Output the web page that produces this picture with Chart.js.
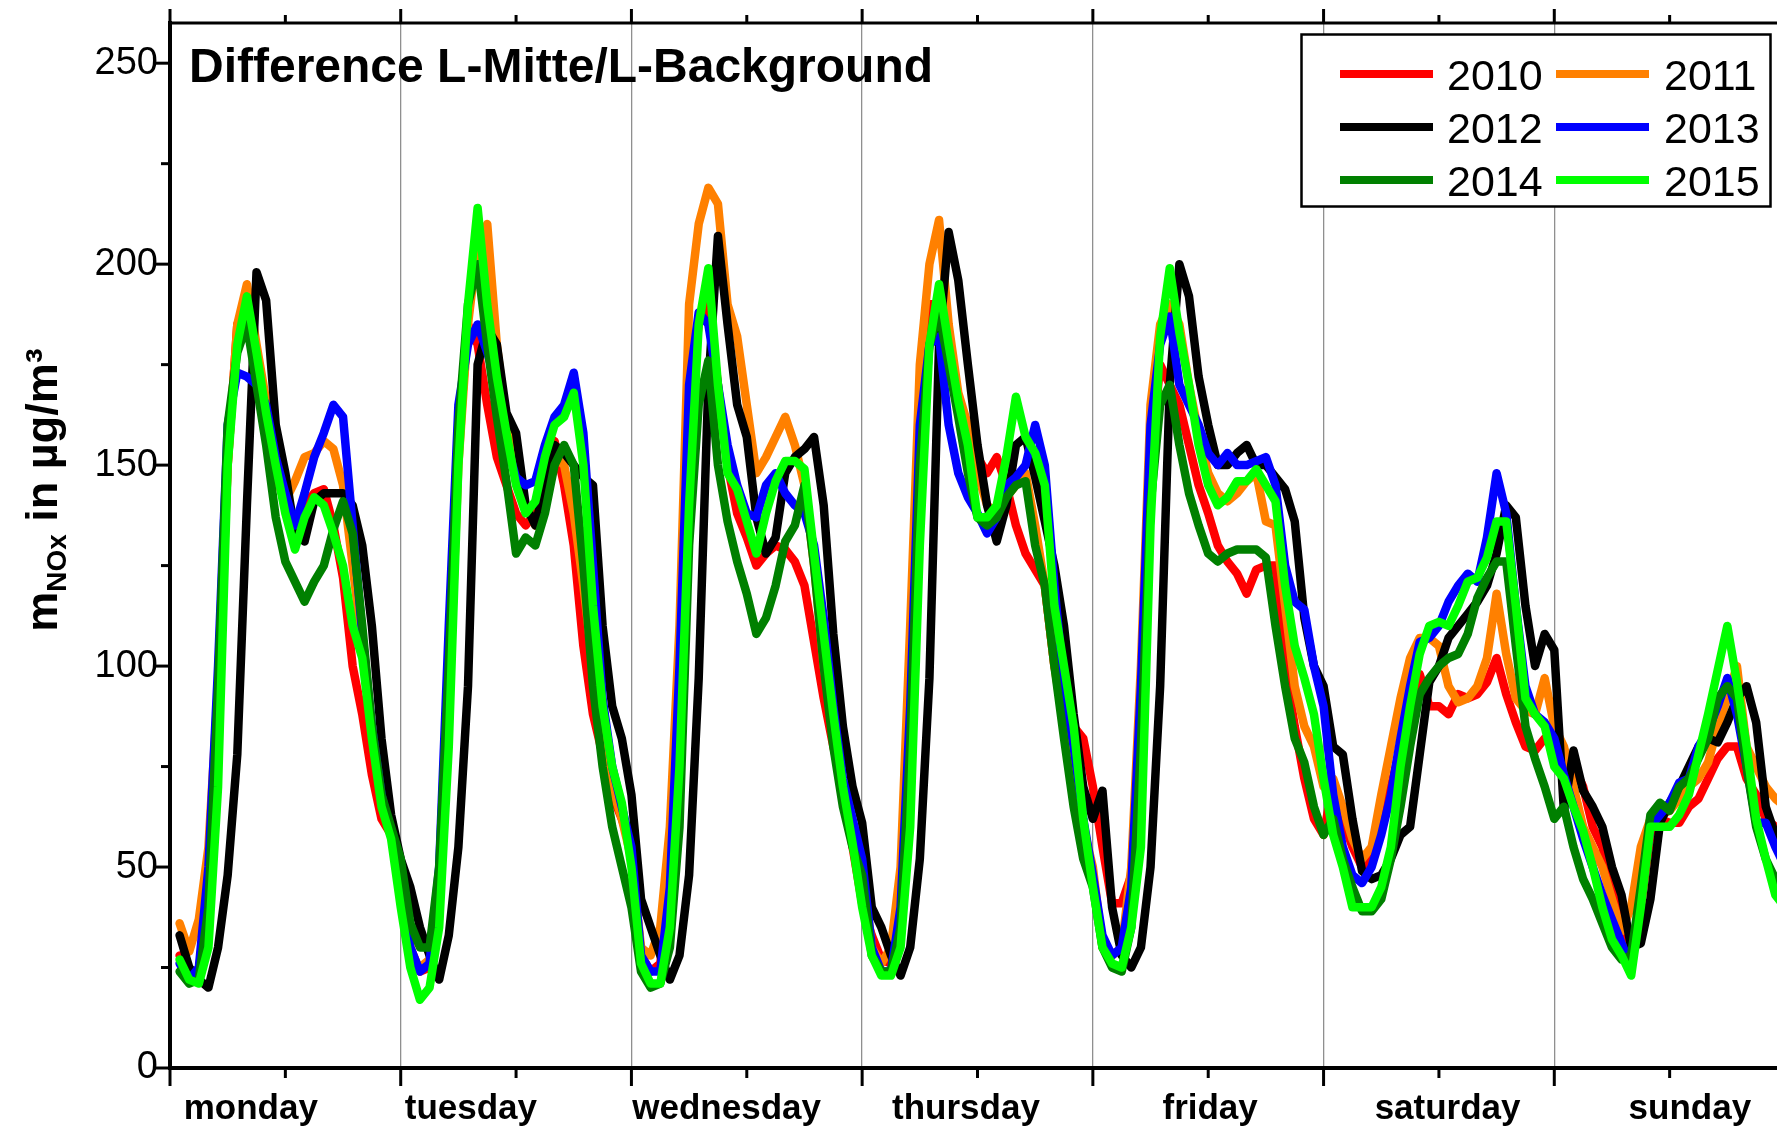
<!DOCTYPE html>
<html><head><meta charset="utf-8">
<script src="https://cdn.jsdelivr.net/npm/chart.js@4.4.1/dist/chart.umd.min.js"></script>
<style>
html,body{margin:0;padding:0;overflow:hidden;background:#fff;width:1777px;height:1132px}
#wrap{position:absolute;left:0;top:0;width:1800px;height:1132px}
canvas{display:block}
</style></head>
<body><div id="wrap"><canvas id="c" width="1800" height="1132" style="width:1800px;height:1132px"></canvas></div>
<script>
// ---------- data ----------
const chartTitle = 'Difference L-Mitte/L-Background';
const days = ['monday','tuesday','wednesday','thursday','friday','saturday','sunday'];
const dayLabelAt = [8.4, 31.3, 57.9, 82.8, 108.2, 132.9, 158.1]; // hour position of day names
const years = ['2010','2011','2012','2013','2014','2015'];
const yTickValues = [0, 50, 100, 150, 200, 250];

const nox2010 = [
 28,23,24,45,90,150,185,190,178,160,148,140,135,140,143,144,135,122,100,88,73,62,58,50,
 30,24,25,45,95,155,185,180,165,152,145,138,135,138,148,156,145,130,105,88,78,68,62,55,
 28,24,26,45,100,165,185,190,170,150,138,132,125,128,130,129,126,120,106,92,80,70,55,41,
 33,27,26,45,100,170,190,190,175,166,160,152,148,152,145,135,128,124,120,100,90,85,82,70,
 55,41,41,48,90,150,175,170,165,155,145,138,130,126,123,118,124,125,125,100,85,72,62,58,
 71,62,55,50,52,60,70,80,90,98,90,90,88,93,92,93,96,102,93,86,80,79,82,80,
 78,75,70,60,55,45,33,30,40,58,62,61,61,65,67,72,77,80,80,72,68,62,60,58];
const nox2011 = [
 36,29,37,55,95,150,185,195,180,166,152,141,146,152,153,156,154,145,125,105,85,70,60,50,
 28,25,27,45,90,150,185,205,210,180,160,148,140,135,143,152,150,138,120,100,82,70,62,52,
 30,28,35,60,110,190,210,219,215,190,182,165,148,152,157,162,155,145,125,100,85,70,60,52,
 30,26,30,50,110,175,200,211,185,168,160,148,140,138,142,145,148,135,120,100,85,70,60,50,
 30,28,30,50,100,165,185,190,185,170,158,148,143,141,143,146,148,136,135,115,95,85,80,70,
 72,65,57,52,55,68,80,92,102,107,107,105,95,91,92,95,102,118,103,92,89,88,97,85,
 80,70,60,55,50,42,34,40,55,62,63,64,67,70,72,76,85,92,100,80,75,70,67,65];
const nox2012 = [
 33,25,22,20,30,48,78,140,198,191,160,148,133,131,141,143,143,143,140,130,110,82,63,52,
 45,35,28,22,33,55,95,175,184,180,163,158,140,135,145,155,153,150,147,145,110,90,82,68,
 42,35,28,22,28,48,97,170,207,185,165,157,137,128,132,148,152,154,157,140,108,85,70,61,
 40,35,28,23,30,52,97,180,208,196,175,155,140,131,140,155,157,147,136,125,110,88,70,62,
 69,40,28,25,30,50,95,170,200,192,172,160,150,150,153,155,150,150,147,144,136,112,100,95,
 80,78,62,49,47,48,52,58,60,78,96,100,107,110,113,116,120,128,140,137,115,100,108,104,
 64,79,69,65,60,50,43,30,31,42,61,66,70,75,80,82,81,86,92,95,86,65,58,52];
const nox2013 = [
 26,22,25,50,100,160,173,172,170,165,152,143,135,143,152,158,165,162,135,108,85,68,58,50,
 30,24,26,50,110,165,180,185,178,170,155,147,145,146,155,162,165,173,158,125,92,75,65,55,
 28,24,24,45,100,170,188,185,170,155,145,138,137,145,148,143,140,138,130,112,90,72,62,52,
 30,24,24,40,90,160,180,182,160,148,142,138,133,137,145,147,150,160,150,120,95,80,62,48,
 33,28,30,45,95,160,180,187,170,165,160,153,150,153,150,150,151,152,145,125,116,114,100,90,
 68,55,48,46,50,58,68,82,95,106,107,110,116,120,123,121,132,148,138,115,95,88,86,82,
 73,65,57,50,43,37,31,25,42,60,63,66,71,72,80,84,90,97,88,75,61,61,55,50];
const nox2014 = [
 24,21,22,40,95,160,178,185,170,155,137,126,121,116,121,125,134,141,133,110,85,68,60,52,
 36,30,30,50,100,160,190,200,180,162,146,128,132,130,138,150,155,150,125,95,75,60,50,40,
 24,20,21,30,60,130,165,176,150,136,126,118,108,112,120,131,135,145,125,100,80,65,55,48,
 28,24,24,35,80,150,180,188,175,162,148,137,135,137,142,145,146,130,120,100,82,65,52,45,
 30,25,24,35,80,140,165,170,155,143,135,128,126,128,129,129,129,127,110,95,82,76,65,58,
 62,52,45,39,39,42,52,65,80,93,97,100,102,103,108,117,122,126,126,105,85,77,70,62,
 65,55,47,42,36,30,27,28,45,63,66,64,70,72,77,82,92,95,92,75,60,52,47,44];
const nox2015 = [
 27,22,21,30,70,150,180,192,178,163,150,138,129,137,142,140,133,125,110,102,82,65,57,40,
 25,17,20,35,80,150,190,214,190,172,158,145,138,141,152,160,162,168,150,115,90,75,66,50,
 26,21,21,35,75,140,185,199,170,148,144,136,128,138,146,151,151,149,128,108,88,70,56,40,
 28,23,23,30,60,130,180,195,180,166,155,137,137,140,152,167,157,153,145,115,100,85,62,45,
 30,26,25,35,55,135,182,199,183,170,155,145,140,142,146,146,149,145,141,120,105,97,88,72,
 58,50,40,40,40,45,55,75,90,103,110,111,110,115,121,122,127,136,136,115,92,88,85,75,
 72,65,59,50,40,32,28,23,40,60,60,60,63,68,78,88,99,110,96,80,62,52,43,40];

const seriesValues = [nox2010, nox2011, nox2012, nox2013, nox2014, nox2015];
const seriesColors = ['#ff0000', '#ff8000', '#000000', '#0000ff', '#008000', '#00ff00'];

// ---------- chart ----------
const FONT = "'Liberation Sans', Arial, Helvetica, sans-serif";
const HOURS = days.length * 24;

const decor = {
  id: 'decor',
  afterDraw(chart) {
    const { ctx, chartArea: ca, scales: { x, y } } = chart;
    ctx.save();
    ctx.strokeStyle = '#000';
    ctx.lineCap = 'butt';
    // top frame
    ctx.lineWidth = 3;
    ctx.beginPath(); ctx.moveTo(ca.left, ca.top); ctx.lineTo(ca.right, ca.top); ctx.stroke();
    // x tick marks (bottom outward, top outward)
    for (let v = 0; v <= HOURS; v += 12) {
      const px = x.getPixelForValue(v);
      const major = v % 24 === 0;
      ctx.beginPath(); ctx.moveTo(px, ca.bottom); ctx.lineTo(px, ca.bottom + (major ? 18 : 10)); ctx.stroke();
      ctx.beginPath(); ctx.moveTo(px, ca.top); ctx.lineTo(px, ca.top - (major ? 14 : 8)); ctx.stroke();
    }
    // y tick marks
    for (let v = 0; v <= 250; v += 25) {
      const py = y.getPixelForValue(v);
      ctx.beginPath(); ctx.moveTo(ca.left, py); ctx.lineTo(ca.left - (v % 50 === 0 ? 17 : 9), py); ctx.stroke();
    }
    // title
    ctx.fillStyle = '#000';
    ctx.textAlign = 'left';
    ctx.textBaseline = 'alphabetic';
    ctx.font = `bold 48px ${FONT}`;
    ctx.fillText(chartTitle, 189, 82);

    // y axis title (rotated, with subscript)
    ctx.save();
    ctx.translate(57, 490);
    ctx.rotate(-Math.PI / 2);
    const parts = [
      { t: 'm', f: `bold 45px ${FONT}`, dy: 0 },
      { t: 'NOx', f: `bold 28px ${FONT}`, dy: 9 },
      { t: ' in µg/m³', f: `bold 45px ${FONT}`, dy: 0 }
    ];
    let total = 0;
    parts.forEach(p => { ctx.font = p.f; p.w = ctx.measureText(p.t).width; total += p.w; });
    let cx = -total / 2;
    parts.forEach(p => { ctx.font = p.f; ctx.fillText(p.t, cx, p.dy); cx += p.w; });
    ctx.restore();

    // legend
    ctx.fillStyle = '#fff';
    ctx.fillRect(1301, 34, 469, 172);
    ctx.lineWidth = 2.5;
    ctx.strokeStyle = '#000';
    ctx.strokeRect(1301.5, 34.5, 469, 172);
    const rowsY = [74, 127, 180];
    const colLine = [1340, 1556];
    const colText = [1447, 1664];
    ctx.font = `43px ${FONT}`;
    chart.data.datasets.forEach((ds, i) => {
      const c = i % 2, r = Math.floor(i / 2);
      ctx.strokeStyle = ds.borderColor;
      ctx.lineWidth = 8;
      ctx.beginPath(); ctx.moveTo(colLine[c], rowsY[r]); ctx.lineTo(colLine[c] + 93, rowsY[r]); ctx.stroke();
      ctx.fillStyle = '#000';
      ctx.fillText(ds.label, colText[c], rowsY[r] + 16);
    });
    ctx.restore();
  }
};

const datasets = years.map((yr, i) => ({
  label: yr,
  data: seriesValues[i].map((v, k) => ({ x: k + 1, y: v })),
  borderColor: seriesColors[i],
  backgroundColor: seriesColors[i],
  borderWidth: 8.5,
  borderJoinStyle: 'round',
  borderCapStyle: 'round',
  pointRadius: 0,
  tension: 0,
  fill: false,
  order: years.length - i
}));

new Chart(document.getElementById('c'), {
  type: 'line',
  data: { datasets },
  options: {
    responsive: false,
    animation: false,
    devicePixelRatio: 1,
    parsing: true,
    layout: { padding: { left: 0, right: 15, top: 23, bottom: 0 } },
    plugins: { legend: { display: false }, tooltip: { enabled: false }, title: { display: false } },
    scales: {
      x: {
        type: 'linear', min: 0, max: HOURS, position: 'bottom',
        afterBuildTicks: (s) => {
          const t = [];
          for (let d = 0; d <= days.length; d++) t.push({ value: d * 24 });
          dayLabelAt.forEach(v => t.push({ value: v }));
          t.sort((a, b) => a.value - b.value);
          s.ticks = t;
        },
        afterFit: (s) => { s.height = 64; s.paddingLeft = 0; s.paddingRight = 0; },
        ticks: {
          autoSkip: false, maxRotation: 0, minRotation: 0, padding: 20,
          color: '#000',
          font: { family: FONT, size: 35, weight: 'bold' },
          callback: (value) => { const k = dayLabelAt.indexOf(value); return k >= 0 ? days[k] : ''; }
        },
        grid: {
          drawOnChartArea: true, drawTicks: false, lineWidth: 1.3,
          color: (c) => (c.tick && c.tick.value % 24 === 0 && c.tick.value > 0) ? '#8f8f8f' : 'rgba(0,0,0,0)'
        },
        border: { display: true, color: '#000', width: 4 }
      },
      y: {
        type: 'linear', min: 0, max: 260, position: 'left',
        afterBuildTicks: (s) => { s.ticks = yTickValues.map(v => ({ value: v })); },
        afterFit: (s) => { s.width = 170; s.paddingTop = 0; s.paddingBottom = 0; },
        ticks: {
          padding: 12, color: '#000',
          font: { family: FONT, size: 38 },
          callback: (v) => String(v)
        },
        grid: { drawOnChartArea: false, drawTicks: false },
        border: { display: true, color: '#000', width: 4 }
      }
    }
  },
  plugins: [decor]
});
</script>
</body></html>
